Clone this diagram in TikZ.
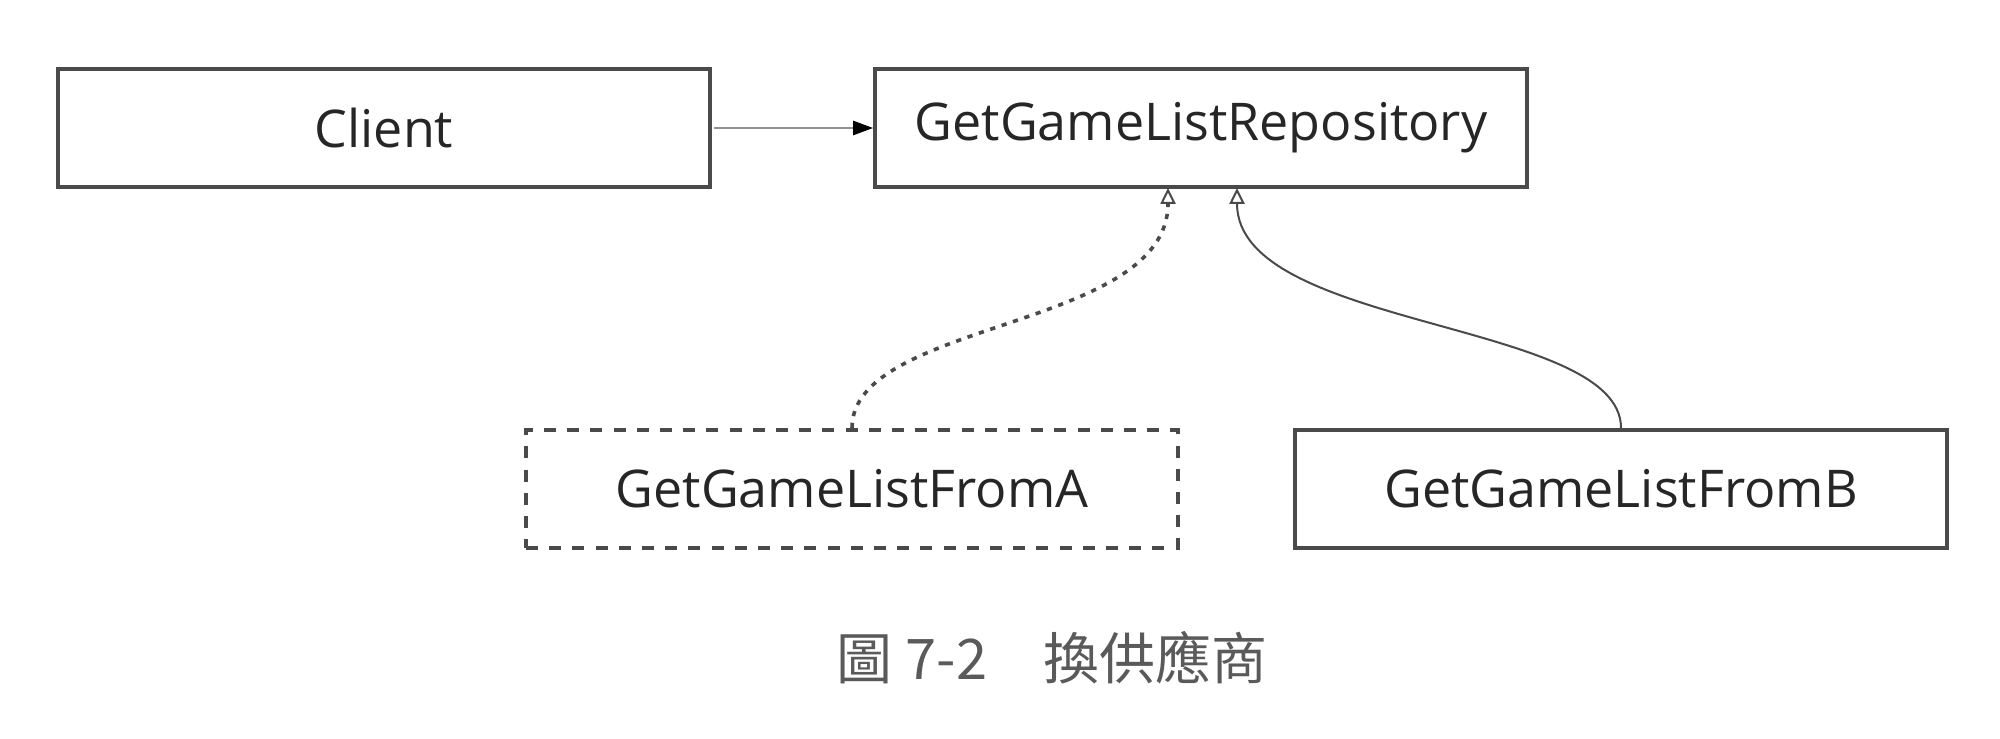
\documentclass[tikz,border=0pt]{standalone}
\usepackage{fontspec}
\setmainfont{Open Sans}
\newfontfamily\cjk{Noto Sans CJK TC}
\usetikzlibrary{arrows.meta}
\definecolor{boxline}{HTML}{4A4A4A}
\definecolor{txt}{HTML}{262626}
\definecolor{capgrey}{HTML}{5A5A5A}
\begin{document}
\begin{tikzpicture}[x=0.25pt,y=-0.25pt,
  cls/.style={draw=boxline,line width=1pt,minimum width=163pt,minimum height=29.5pt,inner sep=0pt,font=\fontsize{13}{15}\selectfont,text=txt},
  clsdash/.style={cls,dash pattern=on 3pt off 2.8pt},
  realize/.style={draw=boxline,line width=0.5pt,-{Triangle[open,length=4pt,width=3.8pt,line width=0.5pt,fill=white]}},
  dep/.style={draw=boxline!60,line width=0.4pt,-{Triangle[length=5pt,width=3.6pt,fill=black,color=black]}}]
\useasboundingbox (0,0) rectangle (2000,738);
\node[cls] (client) at (384,128) {Client};
\node[cls] (repo) at (1201,128) {GetGameListRepository};
\node[clsdash] (fa) at (852,489) {GetGameListFromA};
\node[cls] (fb) at (1621,489) {GetGameListFromB};
\draw[dep] (client.east) ++(2,0) coordinate (cs) (cs) -- (repo.west);
\coordinate (ta) at (1168,188);
\coordinate (tb) at (1237,188);
\draw[realize,dash pattern=on 1.3pt off 1.7pt,line width=0.9pt] (fa.north) .. controls (852,320) and (1168,330) .. (ta);
\draw[realize] (fb.north) .. controls (1621,320) and (1237,330) .. (tb);
\node[text=capgrey,font=\cjk\fontsize{14}{16}\selectfont] (cap) at (1052,658) {圖 7-2\hspace{1em}換供應商};
\end{tikzpicture}
\end{document}
